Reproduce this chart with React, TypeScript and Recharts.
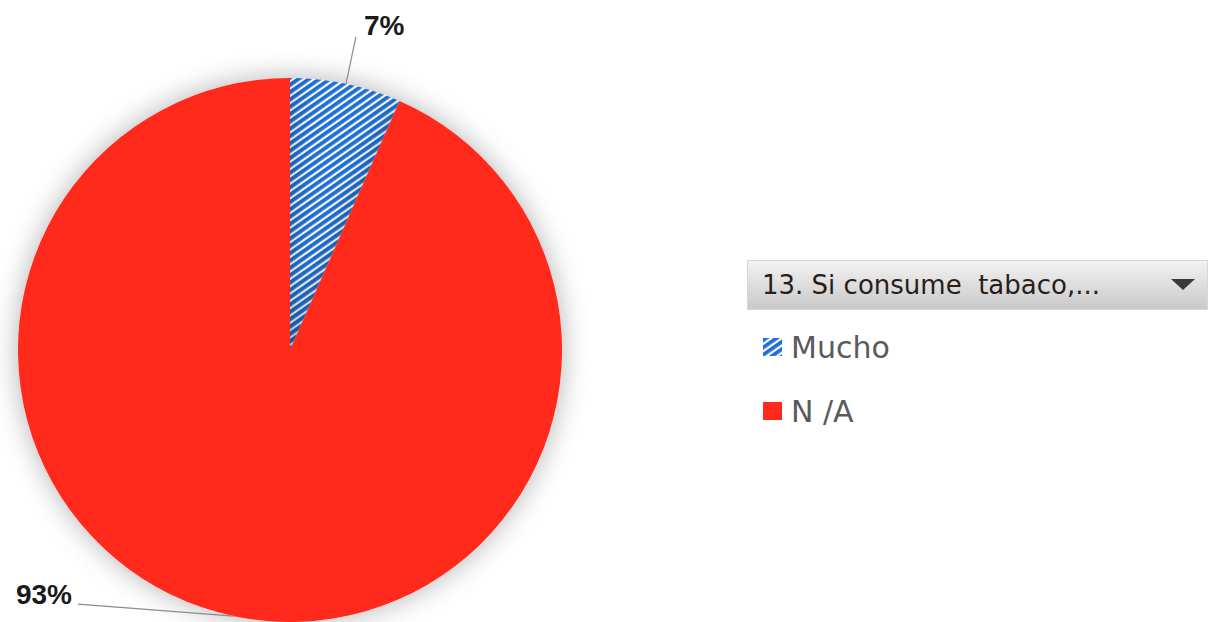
import React from 'react';
import { PieChart, Pie, Cell, Legend } from 'recharts';

const categories = ['Mucho', 'N /A'];
const shares = [6.6, 93.4];
const legendTitle = '13. Si consume  tabaco,...';

const sliceFills = ['url(#hatchBlue)', '#ff2a1a'];

const data = categories.map((name, i) => ({ name, value: shares[i] }));

const W = 1216;
const H = 622;
const RAD = Math.PI / 180;

const HatchDef = ({ id }: { id: string }) => (
  <pattern id={id} patternUnits="userSpaceOnUse" width="6" height="6" patternTransform="rotate(55)">
    <rect x="0" y="0" width="6" height="6" fill="#ffffff" />
    <rect x="0" y="0" width="3.8" height="6" fill="#1f6fd6" />
  </pattern>
);

// Excel-style data labels: radial leader line, pushed sideways when it would leave the chart
const renderLabel = (props: any) => {
  const { cx, cy, midAngle, outerRadius, percent } = props;
  const cos = Math.cos(-midAngle * RAD);
  const sin = Math.sin(-midAngle * RAD);
  const sx = cx + outerRadius * cos;
  const sy = cy + outerRadius * sin;
  let ex = cx + (outerRadius + 48) * cos;
  let ey = cy + (outerRadius + 48) * sin;
  let tx = ex + 8;
  let ty = ey - 2;
  let anchor: 'start' | 'end' = cos >= 0 ? 'start' : 'end';
  if (ey > H - 10) {
    ey = sy - 12;
    ex = cx - outerRadius + 60;
    tx = ex - 6;
    ty = ey;
    anchor = 'end';
  }
  return (
    <g>
      <path d={`M${sx},${sy}L${ex},${ey}`} stroke="#8c8c8c" strokeWidth={1.2} fill="none" />
      <text
        x={tx}
        y={ty}
        textAnchor={anchor}
        fill="#1a1a1a"
        fontFamily="'Liberation Sans', Arial, sans-serif"
        fontWeight={700}
        fontSize={28}
      >
        {`${Math.round(percent * 100)}%`}
      </text>
    </g>
  );
};

const renderLegend = (props: any) => {
  const { payload } = props;
  return (
    <div style={{ width: 461, fontFamily: "'DejaVu Sans', Verdana, sans-serif" }}>
      <div
        style={{
          height: 50,
          boxSizing: 'border-box',
          border: '1px solid #d6d6d6',
          background: 'linear-gradient(#f2f2f2, #c9c9c9)',
          display: 'flex',
          alignItems: 'center',
          justifyContent: 'space-between',
          padding: '0 12px 0 14px',
          color: '#2a1d1a',
          fontSize: 26,
          whiteSpace: 'pre',
        }}
      >
        <span>{legendTitle}</span>
        <svg width={24} height={12}>
          <path d="M0,0L24,0L12,11Z" fill="#3a3a3a" />
        </svg>
      </div>
      {(payload || []).map((entry: any, i: number) => (
        <div
          key={`leg-${i}`}
          style={{
            display: 'flex',
            alignItems: 'center',
            height: 64,
            marginTop: i === 0 ? 5 : 0,
            paddingLeft: 16,
            color: '#5a5a5a',
            fontSize: 30,
            whiteSpace: 'pre',
          }}
        >
          <svg width={19} height={18} style={{ marginRight: 9 }}>
            <defs>
              <HatchDef id={`legHatch${i}`} />
            </defs>
            <rect
              width={19}
              height={18}
              fill={i === 0 ? `url(#legHatch${i})` : sliceFills[i]}
            />
          </svg>
          <span>{entry.value}</span>
        </div>
      ))}
    </div>
  );
};

export default function App() {
  return (
    <div style={{ position: 'absolute', left: 0, top: 0, width: W, height: H, background: '#ffffff' }}>
      <PieChart width={W} height={H} margin={{ top: 0, right: 0, bottom: 0, left: 0 }}>
        <defs>
          <HatchDef id="hatchBlue" />
          <filter id="pieGlow" x="-20%" y="-20%" width="140%" height="140%">
            <feDropShadow dx="0" dy="0" stdDeviation="14" floodColor="#000000" floodOpacity="0.3" />
          </filter>
        </defs>
        <Pie
          data={data}
          dataKey="value"
          nameKey="name"
          cx={290}
          cy={350}
          outerRadius={272}
          startAngle={90}
          endAngle={-270}
          stroke="none"
          label={renderLabel}
          labelLine={false}
          isAnimationActive={false}
          style={{ filter: 'url(#pieGlow)' }}
        >
          {data.map((entry, i) => (
            <Cell key={`cell-${entry.name}`} fill={sliceFills[i]} />
          ))}
        </Pie>
        <Legend
          content={renderLegend}
          wrapperStyle={{ position: 'absolute', left: 747, top: 260, width: 461 }}
        />
      </PieChart>
    </div>
  );
}
